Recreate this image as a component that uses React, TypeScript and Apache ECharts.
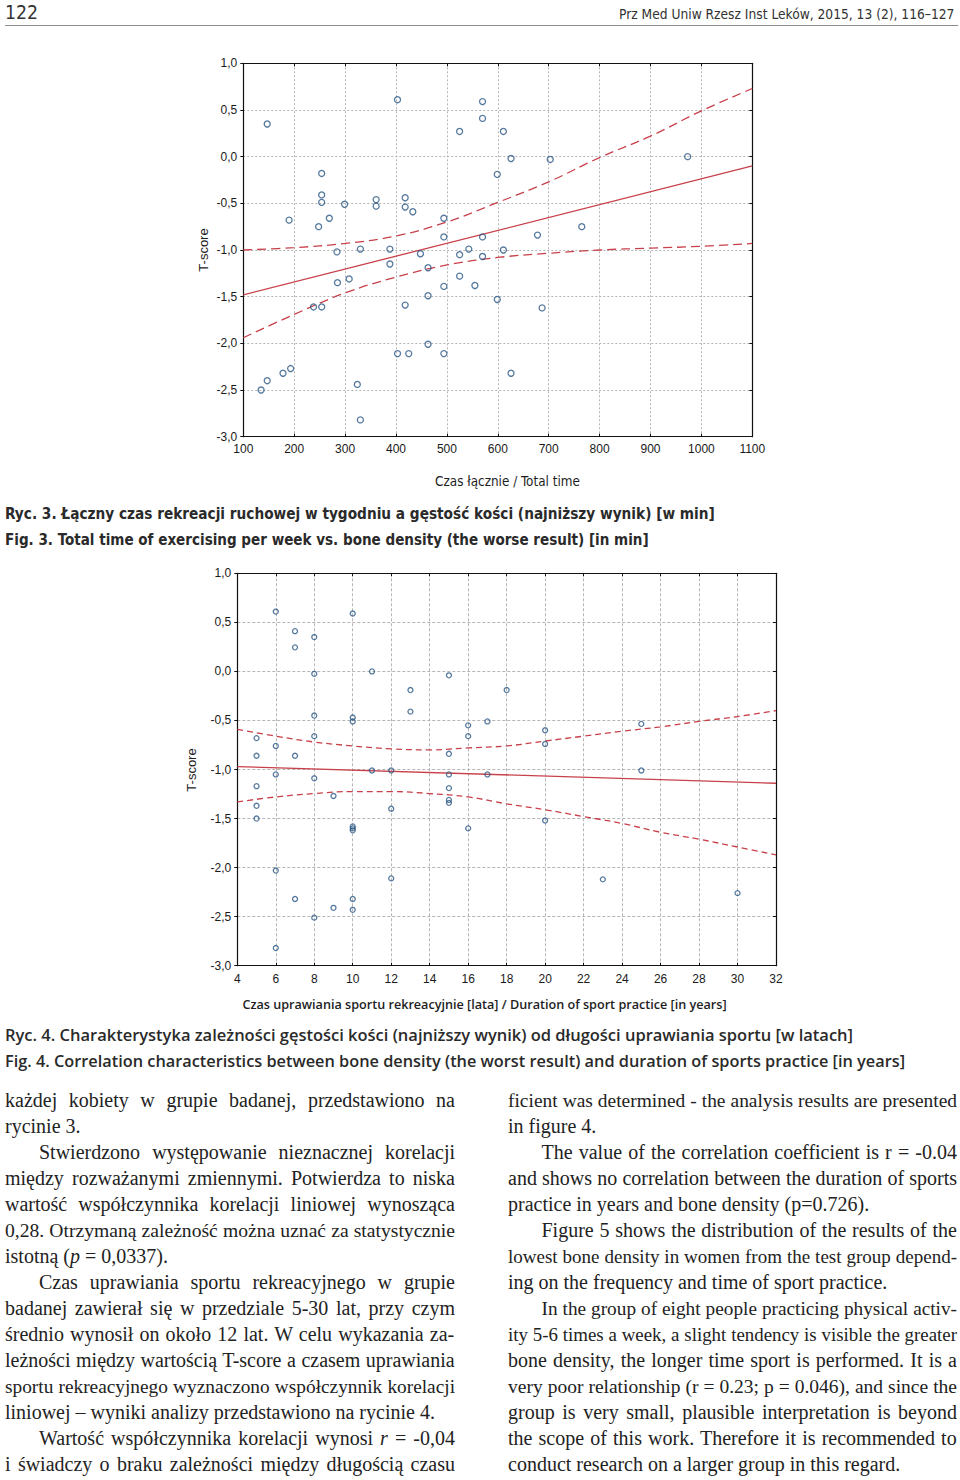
import React, { useEffect, useRef } from "react";
import * as echarts from "echarts";

// ---------- Figure 3 data: total time [min] vs T-score ----------
const fig3XTicks = { min: 100, max: 1100, interval: 100 };
const fig3Points: [number, number][] = [
  [135, -2.5], [147, -2.4], [147, 0.35], [178, -2.32], [190, -0.68], [193, -2.27],
  [238, -1.61], [248, -0.75], [254, -0.18], [254, -0.41], [254, -0.49], [254, -1.61],
  [269, -0.66], [284, -1.02], [285, -1.35], [299, -0.51], [308, -1.31], [324, -2.44],
  [330, -0.99], [330, -2.82], [361, -0.46], [361, -0.53], [388, -0.99], [388, -1.15],
  [403, 0.61], [403, -2.11], [418, -0.44], [418, -0.54], [418, -1.59], [425, -2.11],
  [433, -0.59], [448, -1.04], [463, -1.19], [463, -1.49], [463, -2.01], [494, -0.66],
  [494, -0.86], [494, -1.39], [494, -2.11], [525, 0.27], [525, -1.05], [525, -1.28],
  [543, -0.99], [555, -1.38], [570, 0.59], [570, 0.41], [570, -0.86], [570, -1.07],
  [599, -0.19], [599, -1.53], [611, 0.27], [611, -1.0], [626, -0.02], [626, -2.32],
  [678, -0.84], [687, -1.62], [703, -0.03], [765, -0.75], [973, 0.0],
];
const fig3Fit: [number, number][] = [[100, -1.48], [1100, -0.1]];
const fig3Upper: [number, number][] = [
  [100, -1.0], [200, -0.975], [300, -0.93], [400, -0.85], [500, -0.7], [600, -0.49],
  [700, -0.27], [800, -0.01], [900, 0.22], [1000, 0.49], [1100, 0.73],
];
const fig3Lower: [number, number][] = [
  [100, -1.94], [200, -1.69], [300, -1.46], [400, -1.29], [500, -1.16], [600, -1.08],
  [700, -1.035], [800, -1.0], [900, -0.98], [1000, -0.96], [1100, -0.93],
];

// ---------- Figure 4 data: years of sport vs T-score ----------
const fig4XTicks = { min: 4, max: 32, interval: 2 };
const fig4Points: [number, number][] = [
  [5, -0.68], [5, -0.86], [5, -1.17], [5, -1.37], [5, -1.5],
  [6, 0.61], [6, -0.76], [6, -1.05], [6, -2.03], [6, -2.82],
  [7, 0.41], [7, 0.245], [7, -0.86], [7, -2.32],
  [8, 0.35], [8, -0.025], [8, -0.45], [8, -0.66], [8, -1.09], [8, -2.51],
  [9, -1.27], [9, -2.41],
  [10, 0.59], [10, -0.47], [10, -0.51], [10, -1.58], [10, -1.6], [10, -1.62], [10, -2.32], [10, -2.43],
  [11, 0.0], [11, -1.01],
  [12, -1.01], [12, -1.4], [12, -2.11],
  [13, -0.19], [13, -0.41],
  [15, -0.04], [15, -0.84], [15, -1.05], [15, -1.19], [15, -1.31], [15, -1.34],
  [16, -0.55], [16, -0.66], [16, -1.6],
  [17, -0.51], [17, -1.05],
  [18, -0.19],
  [20, -0.6], [20, -0.74], [20, -1.52],
  [23, -2.12],
  [25, -0.535], [25, -1.01],
  [30, -2.26],
];
const fig4Fit: [number, number][] = [[4, -0.97], [32, -1.14]];
const fig4Upper: [number, number][] = [
  [4, -0.59], [6, -0.66], [8, -0.72], [10, -0.76], [12, -0.79], [14, -0.8], [16, -0.78],
  [18, -0.76], [20, -0.71], [22, -0.66], [24, -0.61], [26, -0.565], [28, -0.51], [30, -0.46], [32, -0.4],
];
const fig4Lower: [number, number][] = [
  [4, -1.33], [6, -1.28], [8, -1.245], [10, -1.225], [12, -1.225], [14, -1.245], [16, -1.28],
  [18, -1.35], [20, -1.41], [22, -1.48], [24, -1.55], [26, -1.64], [28, -1.71], [30, -1.79], [32, -1.87],
];
const yTicks = { min: -3, max: 1, interval: 0.5 };

// ---------- texts ----------
const pageNumber = "122";
const journalRef = "Prz Med Uniw Rzesz Inst Leków, 2015, 13 (2), 116–127";
const fig3AxisX = "Czas łącznie / Total time";
const fig4AxisX = "Czas uprawiania sportu rekreacyjnie [lata] / Duration of sport practice [in years]";
const axisY = "T-score";
const fig3CaptionPl = "Ryc. 3. Łączny czas rekreacji ruchowej w tygodniu a gęstość kości (najniższy wynik) [w min]";
const fig3CaptionEn = "Fig. 3. Total time of exercising per week vs. bone density (the worse result) [in min]";
const fig4CaptionPl = "Ryc. 4. Charakterystyka zależności gęstości kości (najniższy wynik) od długości uprawiania sportu [w latach]";
const fig4CaptionEn = "Fig. 4. Correlation characteristics between bone density (the worst result) and duration of sports practice [in years]";

const leftColumn = [
  "każdej kobiety w grupie badanej, przedstawiono na",
  "rycinie 3.",
  "Stwierdzono występowanie nieznacznej korelacji",
  "między rozważanymi zmiennymi. Potwierdza to niska",
  "wartość współczynnika korelacji liniowej wynosząca",
  "0,28. Otrzymaną zależność można uznać za statystycznie",
  "istotną (_p_ = 0,0337).",
  "Czas uprawiania sportu rekreacyjnego w grupie",
  "badanej zawierał się w przedziale 5-30 lat, przy czym",
  "średnio wynosił on około 12 lat. W celu wykazania za-",
  "leżności między wartością T-score a czasem uprawiania",
  "sportu rekreacyjnego wyznaczono współczynnik korelacji",
  "liniowej – wyniki analizy przedstawiono na rycinie 4.",
  "Wartość współczynnika korelacji wynosi _r_ = -0,04",
  "i świadczy o braku zależności między długością czasu",
];
const leftIndented = [2, 7, 13];
const leftRagged = [1, 6, 12];

const rightColumn = [
  "ficient was determined - the analysis results are presented",
  "in figure 4.",
  "The value of the correlation coefficient is r = -0.04",
  "and shows no correlation between the duration of sports",
  "practice in years and bone density (p=0.726).",
  "Figure 5 shows the distribution of the results of the",
  "lowest bone density in women from the test group depend-",
  "ing on the frequency and time of sport practice.",
  "In the group of eight people practicing physical activ-",
  "ity 5-6 times a week, a slight tendency is visible the greater",
  "bone density, the longer time sport is performed. It is a",
  "very poor relationship (r = 0.23; p = 0.046), and since the",
  "group is very small, plausible interpretation is beyond",
  "the scope of this work. Therefore it is recommended to",
  "conduct research on a larger group in this regard.",
];
const rightIndented = [2, 5, 8];
const rightRagged = [1, 4, 7, 14];

// ---------- helpers ----------
const SERIF = '"Liberation Serif", "DejaVu Serif", serif';
const SANS = '"Liberation Sans", Arial, sans-serif';
const CONDENSED = '"Liberation Sans Narrow", "DejaVu Sans Condensed", "Roboto Condensed", "Liberation Sans", sans-serif';
const SEMI = '"Open Sans", "Noto Sans", sans-serif';

let measureCtx: CanvasRenderingContext2D | null = null;
function textWidth(text: string, font: string): number {
  if (!measureCtx) measureCtx = document.createElement("canvas").getContext("2d");
  if (!measureCtx) return text.length * 8;
  measureCtx.font = font;
  return measureCtx.measureText(text).width;
}

const fmtComma = (v: number) => v.toFixed(1).replace(".", ",");
const fmtPlain = (v: number) => String(v);

function axesFor(grid: number, xr: { min: number; max: number; interval: number }, dash: number[]) {
  const frame = { show: true, onZero: false, lineStyle: { color: "#111", width: 1.2 } };
  const labelBase = { color: "#1a1a1a", fontSize: 12, fontFamily: SANS, showMinLabel: true, showMaxLabel: true };
  const xAxis = [
    {
      type: "value", gridIndex: grid, ...xr, position: "bottom",
      axisLine: frame,
      axisTick: { show: true, inside: true, length: 3, lineStyle: { color: "#111" } },
      axisLabel: { ...labelBase, margin: grid === 0 ? 6 : 7, formatter: fmtPlain },
      splitLine: { show: true, lineStyle: { color: "#b5b5b5", width: 1, type: dash } },
    },
    {
      type: "value", gridIndex: grid, ...xr, position: "top",
      axisLine: frame,
      axisTick: { show: true, inside: true, length: 3, lineStyle: { color: "#111" } },
      axisLabel: { show: false }, splitLine: { show: false },
    },
  ];
  const yAxis = [
    {
      type: "value", gridIndex: grid, ...yTicks, position: "left",
      axisLine: frame,
      axisTick: { show: true, inside: false, length: 3, lineStyle: { color: "#111" } },
      axisLabel: { ...labelBase, margin: 6, formatter: fmtComma },
      splitLine: { show: true, lineStyle: { color: "#b5b5b5", width: 1, type: dash } },
    },
    {
      type: "value", gridIndex: grid, ...yTicks, position: "right",
      axisLine: frame,
      axisTick: { show: true, inside: true, length: 3, lineStyle: { color: "#111" } },
      axisLabel: { show: false }, splitLine: { show: false },
    },
  ];
  return { xAxis, yAxis };
}

function fittedText(text: string, cx: number, cy: number, family: string, size: number, weight: string, target: number | null, rotation = 0) {
  const w = textWidth(text, `${weight} ${size}px ${family}`);
  const sx = target ? target / w : 1;
  return {
    type: "text", x: cx, y: cy, rotation, scaleX: sx, silent: true,
    style: { text, fontFamily: family, fontSize: size, fontWeight: weight, fill: "#1e1e1e", align: "center", verticalAlign: "middle" },
  };
}

function buildOption() {
  const a1 = axesFor(0, fig3XTicks, [2, 2]);
  const a2 = axesFor(1, fig4XTicks, [3, 2]);
  const red = "#c8404a";
  const pointStyle = (size: number) => ({
    type: "scatter", symbol: "circle", symbolSize: size, z: 4,
    itemStyle: { color: "rgba(255,255,255,0)", borderColor: "#2a5785", borderWidth: 1.3 },
  });
  const lineS = (data: [number, number][], xi: number, yi: number, dash: any, smooth: number | boolean) => ({
    type: "line", data, xAxisIndex: xi, yAxisIndex: yi, showSymbol: false, symbol: "none", smooth, z: 3,
    lineStyle: { color: red, width: 1.3, type: dash }, silent: true,
  });
  return {
    animation: false,
    backgroundColor: "#ffffff",
    grid: [
      { left: 243.3, top: 63.3, width: 509, height: 373.4, outerBoundsMode: "none" },
      { left: 237.3, top: 573.3, width: 538.7, height: 392.4, outerBoundsMode: "none" },
    ],
    xAxis: [...a1.xAxis, ...a2.xAxis],
    yAxis: [...a1.yAxis, ...a2.yAxis],
    series: [
      lineS(fig3Fit, 0, 0, "solid", false),
      lineS(fig3Upper, 0, 0, [9, 5], 0.4),
      lineS(fig3Lower, 0, 0, [9, 5], 0.4),
      { ...pointStyle(6), data: fig3Points, xAxisIndex: 0, yAxisIndex: 0 },
      lineS(fig4Fit, 2, 2, "solid", false),
      lineS(fig4Upper, 2, 2, [6, 4], 0.4),
      lineS(fig4Lower, 2, 2, [6, 4], 0.4),
      { ...pointStyle(5), data: fig4Points, xAxisIndex: 2, yAxisIndex: 2 },
    ],
    graphic: [
      fittedText(fig3AxisX, 507.5, 481, CONDENSED, 14, "normal", 145),
      fittedText(axisY, 203, 250, SANS, 13, "normal", null, Math.PI / 2),
      fittedText(fig4AxisX, 484.5, 1004, SEMI, 13, "600", 485),
      fittedText(axisY, 191, 770, SANS, 13, "normal", null, Math.PI / 2),
    ],
  };
}

// A single line of page text that fills exactly `target` px: shrinks the font if too wide, stretches otherwise.
function FitLine({ text, x, y, family, size, weight, target, fill }: { text: string; x: number; y: number; family: string; size: number; weight: string; target: number; fill: string }) {
  const w = textWidth(text, `${weight} ${size}px ${family}`);
  const fs = w > target ? (size * target) / w - 0.05 : size;
  const extra: any = w > target ? {} : { textLength: target, lengthAdjust: "spacingAndGlyphs" };
  return (
    <text x={x} y={y} fontFamily={family} fontSize={fs} fontWeight={weight} fill={fill} {...extra}>{text}</text>
  );
}

function BodyLine({ text, x, right, y, justify }: { text: string; x: number; right: number; y: number; justify: boolean }) {
  const segs = text.split("_");
  const measure = (size: number) => {
    let w = 0;
    segs.forEach((s, i) => {
      w += textWidth(s, `${i % 2 ? "italic " : ""}${size}px ${SERIF}`);
    });
    return w;
  };
  const target = right - x;
  let fs = 20;
  let w = measure(fs);
  const spaces = (text.match(/ /g) || []).length;
  const style: any = { whiteSpace: "pre" };
  if (w > target) {
    fs = (20 * target) / w - 0.05;
    w = measure(fs);
  }
  if (justify && spaces > 0 && w < target) {
    style.wordSpacing = `${(target - w) / spaces}px`;
  }
  return (
    <text x={x} y={y} fontFamily={SERIF} fontSize={fs} fill="#222" style={style}>
      {segs.map((s, i) =>
        i % 2 ? <tspan key={i} fontStyle="italic">{s}</tspan> : <tspan key={i}>{s}</tspan>
      )}
    </text>
  );
}

function PageText() {
  const base = 1107;
  const lh = 26;
  return (
    <svg width={960} height={1480} style={{ position: "absolute", left: 0, top: 0, pointerEvents: "none" }}>
      <FitLine text={pageNumber} x={5} y={19} family={CONDENSED} size={19} weight="normal" target={33} fill="#333" />
      <FitLine text={journalRef} x={619} y={19} family={CONDENSED} size={17} weight="normal" target={337} fill="#333" />
      <line x1={5} x2={958} y1={25.5} y2={25.5} stroke="#8c8c8c" strokeWidth={1} />

      <FitLine text={fig3CaptionPl} x={5} y={519} family={CONDENSED} size={17} weight="600" target={713} fill="#2a2a2a" />
      <FitLine text={fig3CaptionEn} x={5} y={545} family={CONDENSED} size={17} weight="600" target={646} fill="#2a2a2a" />
      <FitLine text={fig4CaptionPl} x={5} y={1041} family={SEMI} size={16} weight="600" target={848} fill="#2a2a2a" />
      <FitLine text={fig4CaptionEn} x={5} y={1067} family={SEMI} size={16} weight="600" target={900} fill="#2a2a2a" />

      {leftColumn.map((t, i) => (
        <BodyLine key={"l" + i} text={t} x={leftIndented.includes(i) ? 39 : 5} right={455} y={base + lh * i} justify={!leftRagged.includes(i)} />
      ))}
      {rightColumn.map((t, i) => (
        <BodyLine key={"r" + i} text={t} x={rightIndented.includes(i) ? 541.5 : 508} right={957} y={base + lh * i} justify={!rightRagged.includes(i)} />
      ))}
    </svg>
  );
}

export default function App() {
  const ref = useRef<HTMLDivElement>(null);
  useEffect(() => {
    if (!ref.current) return;
    const chart = echarts.init(ref.current, null, { renderer: "svg" });
    chart.setOption(buildOption() as any);
    return () => chart.dispose();
  }, []);
  return (
    <div style={{ position: "absolute", left: 0, top: 0, width: 960, height: 1480, background: "#fff", overflow: "hidden" }}>
      <div ref={ref} style={{ position: "absolute", left: 0, top: 0, width: 960, height: 1020 }} />
      <PageText />
    </div>
  );
}
